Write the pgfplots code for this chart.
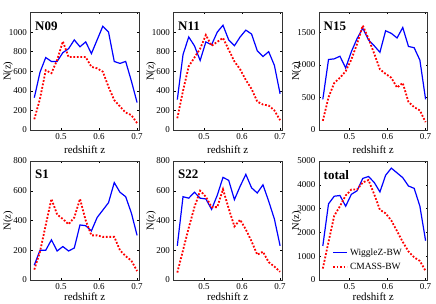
\documentclass[border=0pt]{standalone}
\usepackage{fontspec}
\setmainfont{Liberation Serif}
\usepackage{pgfplots}
\usepackage{pgfplotstable}
\pgfplotsset{compat=1.18}

\pgfplotstableread{
z wig cm
0.430 330 110
0.445 590 320
0.460 740 610
0.475 700 580
0.490 700 715
0.505 790 905
0.520 830 745
0.535 920 745
0.550 850 745
0.565 900 745
0.580 780 645
0.595 920 630
0.610 1060 595
0.625 1000 440
0.640 700 305
0.655 680 240
0.670 700 178
0.685 500 152
0.700 280 70
}\dataNnine

\pgfplotstableread{
z wig cm
0.430 310 120
0.445 770 400
0.460 950 650
0.475 860 740
0.490 710 830
0.505 900 970
0.520 870 860
0.535 1000 900
0.550 1070 940
0.565 920 820
0.580 860 700
0.595 950 620
0.610 1020 510
0.625 980 420
0.640 810 290
0.655 750 260
0.670 800 250
0.685 660 200
0.700 370 100
}\dataNeleven

\pgfplotstableread{
z wig cm
0.430 470 140
0.445 1080 500
0.460 1090 720
0.475 1130 800
0.490 950 900
0.505 1200 1080
0.520 1400 1320
0.535 1560 1600
0.550 1380 1400
0.565 1290 1170
0.580 1190 930
0.595 1520 860
0.610 1480 800
0.625 1410 650
0.640 1570 720
0.655 1280 430
0.670 1260 350
0.685 1070 300
0.700 470 120
}\dataNfifteen

\pgfplotstableread{
z wig cm
0.430 100 70
0.445 200 190
0.460 200 370
0.475 270 545
0.490 195 440
0.505 225 410
0.520 195 375
0.535 215 420
0.550 370 545
0.565 365 400
0.580 330 300
0.595 420 300
0.610 470 290
0.625 520 290
0.640 655 290
0.655 590 200
0.670 560 160
0.685 450 130
0.700 300 60
}\dataSone

\pgfplotstableread{
z wig cm
0.430 230 50
0.445 560 200
0.460 550 350
0.475 590 490
0.490 550 600
0.505 545 560
0.520 475 490
0.535 570 490
0.550 690 610
0.565 670 480
0.580 540 360
0.595 630 405
0.610 710 340
0.625 620 260
0.640 585 170
0.655 640 190
0.670 530 120
0.685 410 90
0.700 230 55
}\dataStwentytwo

\pgfplotstableread{
z wig cm
0.430 1430 480
0.445 3200 1600
0.460 3520 2700
0.475 3550 3100
0.490 3100 3550
0.505 3600 3800
0.520 3750 3800
0.535 4270 4100
0.550 4350 4200
0.565 4100 3600
0.580 3700 2950
0.595 4400 2800
0.610 4700 2500
0.625 4500 2050
0.640 4300 1600
0.655 3950 1200
0.670 3850 950
0.685 3100 800
0.700 1650 380
}\datatotal

\pgfplotsset{
  panel/.style={
    scale only axis,
    width=108.5pt,
    anchor=south west,
    xmin=0.42, xmax=0.705,
    ymin=0,
    xtick={0.5,0.6,0.7},
    xticklabels={0.5,0.6,0.7},
    tick align=inside,
    major tick length=2pt,
    tick style={line width=0.4pt,black},
    axis line style={line width=0.5pt, black!80},
    /pgf/number format/assume math mode=true,
    scaled y ticks=false,
    yticklabel style={/pgf/number format/1000 sep={}},
    tick label style={font=\fontsize{9}{9}\selectfont},
    xlabel style={font=\fontsize{11}{11}\selectfont, yshift=1pt},
    ylabel style={font=\fontsize{10.5}{10.5}\selectfont,
      at={([xshift=-22.5pt]rel axis cs:0,0.5)}, anchor=center},
    xlabel={redshift z},
    ylabel={N(z)},
  },
  bottomrow/.style={xlabel style={yshift=2.5pt}},
  wig/.style={blue, line width=1.2pt, mark=none},
  cm/.style={red, line width=1.8pt, dash pattern=on 1.8pt off 1.7pt, mark=none},
}
\tikzset{plabel/.style={anchor=north west, inner sep=0pt, font=\fontsize{13}{13}\selectfont\bfseries}}

\begin{document}
\begin{tikzpicture}
\useasboundingbox (0,0) rectangle (436pt,304pt);

\begin{axis}[panel, at={(30.5pt,174pt)}, height=117.5pt, ymax=1200, ytick={0,200,400,600,800,1000}]
\addplot[wig] table[x=z,y=wig] {\dataNnine};
\addplot[cm] table[x=z,y=cm] {\dataNnine};
\node[plabel] at ([xshift=4.5pt,yshift=-9pt]rel axis cs:0,1) {N09};
\end{axis}

\begin{axis}[panel, at={(173.5pt,174pt)}, height=117.5pt, ymax=1200, ytick={0,200,400,600,800,1000}]
\addplot[wig] table[x=z,y=wig] {\dataNeleven};
\addplot[cm] table[x=z,y=cm] {\dataNeleven};
\node[plabel] at ([xshift=4.5pt,yshift=-9pt]rel axis cs:0,1) {N11};
\end{axis}

\begin{axis}[panel, at={(319pt,174pt)}, height=117.5pt, ymax=1800, ytick={0,500,1000,1500}]
\addplot[wig] table[x=z,y=wig] {\dataNfifteen};
\addplot[cm] table[x=z,y=cm] {\dataNfifteen};
\node[plabel] at ([xshift=4.5pt,yshift=-9pt]rel axis cs:0,1) {N15};
\end{axis}

\begin{axis}[panel, bottomrow, at={(30.5pt,24pt)}, height=119pt, ymax=800, ytick={0,200,400,600,800}]
\addplot[wig] table[x=z,y=wig] {\dataSone};
\addplot[cm] table[x=z,y=cm] {\dataSone};
\node[plabel] at ([xshift=4.5pt,yshift=-9pt]rel axis cs:0,1) {S1};
\end{axis}

\begin{axis}[panel, bottomrow, at={(173.5pt,24pt)}, height=119pt, ymax=800, ytick={0,200,400,600,800}]
\addplot[wig] table[x=z,y=wig] {\dataStwentytwo};
\addplot[cm] table[x=z,y=cm] {\dataStwentytwo};
\node[plabel] at ([xshift=4.5pt,yshift=-9pt]rel axis cs:0,1) {S22};
\end{axis}

\begin{axis}[panel, bottomrow, at={(319pt,24pt)}, height=119pt, ymax=5000, ytick={0,1000,2000,3000,4000,5000},
  legend style={at={([xshift=12pt,yshift=6pt]rel axis cs:0,0)}, anchor=south west, draw=none, fill=none,
    font=\fontsize{9.5}{9.5}\selectfont, row sep=2.5pt, inner sep=1pt},
  legend image code/.code={\draw[#1] (0pt,0pt) -- (14pt,0pt);},
  legend cell align=left]
\addplot[wig] table[x=z,y=wig] {\datatotal};
\addplot[cm] table[x=z,y=cm] {\datatotal};
\legend{WiggleZ-BW, CMASS-BW}
\node[plabel] at ([xshift=4.5pt,yshift=-9pt]rel axis cs:0,1) {total};
\end{axis}
\end{tikzpicture}
\end{document}
